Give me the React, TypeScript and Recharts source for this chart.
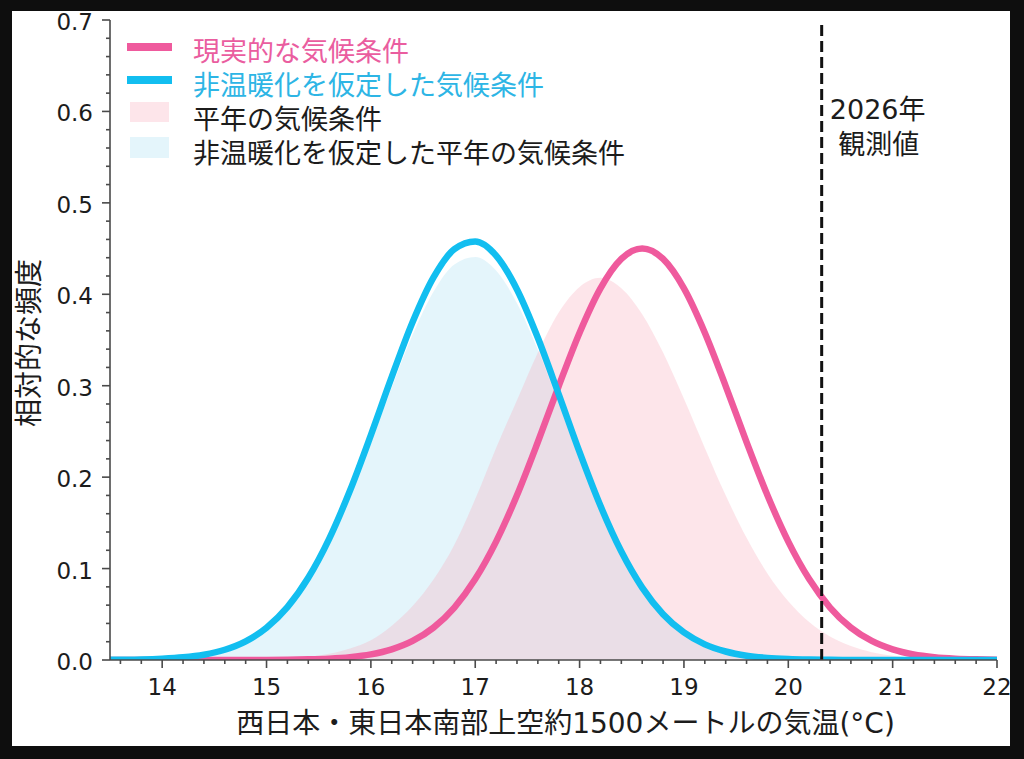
import React from 'react';
import { ComposedChart, Line, Area, XAxis, YAxis, ReferenceLine, Legend, Label } from 'recharts';

// x: 西日本・東日本南部上空約1500メートルの気温 (°C)
const temps = [13.5, 13.6, 13.8, 14.0, 14.2, 14.4, 14.6, 14.8, 15.0, 15.2, 15.4, 15.6, 15.8, 16.0, 16.2, 16.4, 16.6, 16.8, 17.0, 17.2, 17.4, 17.6, 17.8, 18.0, 18.2, 18.4, 18.6, 18.8, 19.0, 19.2, 19.4, 19.6, 19.8, 20.0, 20.2, 20.4, 20.6, 20.8, 21.0, 21.2, 21.4, 21.6, 21.8, 22.0];

// 現実的な気候条件 (pink line)
const realClimate = [0, 0, 0, 0, 0, 0, 0, 0.0001, 0.0001, 0.0003, 0.0007, 0.0015, 0.0031, 0.0061, 0.0116, 0.0208, 0.0354, 0.0574, 0.0885, 0.1295, 0.1802, 0.2384, 0.2996, 0.358, 0.4065, 0.4387, 0.45, 0.4387, 0.4065, 0.358, 0.2996, 0.2384, 0.1802, 0.1295, 0.0885, 0.0574, 0.0354, 0.0208, 0.0116, 0.0061, 0.0031, 0.0015, 0.0007, 0.0003];

// 非温暖化を仮定した気候条件 (blue line)
const noWarmingClimate = [0.0002, 0.0003, 0.0006, 0.0014, 0.0029, 0.0058, 0.0112, 0.0204, 0.0353, 0.0578, 0.0899, 0.1325, 0.1854, 0.246, 0.3096, 0.3696, 0.4184, 0.4493, 0.4577, 0.4423, 0.4053, 0.3524, 0.2906, 0.2273, 0.1686, 0.1186, 0.0792, 0.0501, 0.0301, 0.0171, 0.0093, 0.0047, 0.0023, 0.0011, 0.0005, 0.0002, 0.0001, 0, 0, 0, 0, 0, 0, 0];

// 平年の気候条件 (pink area)
const normalClimate = [0, 0, 0, 0, 0, 0, 0.0001, 0.0003, 0.0008, 0.0017, 0.0035, 0.0068, 0.0125, 0.0215, 0.0375, 0.059, 0.088, 0.126, 0.176, 0.232, 0.284, 0.336, 0.38, 0.408, 0.418, 0.4067, 0.3783, 0.3363, 0.2857, 0.232, 0.1801, 0.1336, 0.0947, 0.0642, 0.0415, 0.0257, 0.0152, 0.0086, 0.0046, 0.0024, 0.0012, 0.0006, 0.0003, 0.0001];

// 非温暖化を仮定した平年の気候条件 (blue area)
const noWarmingNormalClimate = [0.0002, 0.0003, 0.0006, 0.0013, 0.0028, 0.0056, 0.0108, 0.0196, 0.034, 0.0557, 0.0866, 0.1276, 0.1785, 0.2369, 0.2981, 0.3559, 0.4029, 0.4327, 0.4408, 0.4259, 0.3903, 0.3394, 0.2798, 0.2189, 0.1624, 0.1142, 0.0763, 0.0482, 0.029, 0.0165, 0.009, 0.0045, 0.0022, 0.0011, 0.0005, 0.0002, 0.0001, 0, 0, 0, 0, 0, 0, 0];

const observed2026 = 20.32;

const xMajorTicks = [14, 15, 16, 17, 18, 19, 20, 21, 22];
const xTickLabels = ['14', '15', '16', '17', '18', '19', '20', '21', '22'];
const xAllTicks = [13.6, 13.8, 14.0, 14.2, 14.4, 14.6, 14.8, 15.0, 15.2, 15.4, 15.6, 15.8, 16.0, 16.2, 16.4, 16.6, 16.8, 17.0, 17.2, 17.4, 17.6, 17.8, 18.0, 18.2, 18.4, 18.6, 18.8, 19.0, 19.2, 19.4, 19.6, 19.8, 20.0, 20.2, 20.4, 20.6, 20.8, 21.0, 21.2, 21.4, 21.6, 21.8, 22.0];

const yMajorTicks = [0, 0.1, 0.2, 0.3, 0.4, 0.5, 0.6, 0.7];
const yTickLabels = ['0.0', '0.1', '0.2', '0.3', '0.4', '0.5', '0.6', '0.7'];
const yAllTicks = [0, 0.02, 0.04, 0.06, 0.08, 0.1, 0.12, 0.14, 0.16, 0.18, 0.2, 0.22, 0.24, 0.26, 0.28, 0.3, 0.32, 0.34, 0.36, 0.38, 0.4, 0.42, 0.44, 0.46, 0.48, 0.5, 0.52, 0.54, 0.56, 0.58, 0.6, 0.62, 0.64, 0.66, 0.68, 0.7];

const legendLabels = ['現実的な気候条件', '非温暖化を仮定した気候条件', '平年の気候条件', '非温暖化を仮定した平年の気候条件'];

const xLabel = '西日本・東日本南部上空約1500メートルの気温(°C)';
const yLabel = '相対的な頻度';
const obsLabel = ['2026年', '観測値'];

const PINK = '#EF5A9D';
const BLUE = '#12BEF0';
const PINK_FILL = '#F7AAB9';
const PINK_OP = 0.3;
const BLUE_FILL = '#BEE6F5';
const BLUE_OP = 0.42;
const AXIS = '#4a4a4a';
const TEXT = '#1c1c1c';
const FONT = "'DejaVu Sans', 'Noto Sans CJK JP', sans-serif";
const CJK = "'Noto Sans CJK JP', 'DejaVu Sans', sans-serif";

const rows = temps.map((t, i) => ({
  t,
  real: realClimate[i],
  noWarm: noWarmingClimate[i],
  normal: normalClimate[i],
  noWarmNormal: noWarmingNormalClimate[i],
}));

const XTick = (props: any) => {
  const { x, y, payload } = props;
  const v = payload.value;
  const i = xMajorTicks.findIndex((t) => Math.abs(t - v) < 1e-6);
  const major = i >= 0;
  return (
    <g>
      <line x1={x} x2={x} y1={y} y2={y + (major ? 8 : 4)} stroke={AXIS} strokeWidth={1.6} />
      {major && (
        <text x={x} y={y + 35} textAnchor="middle" fontSize={23} fontFamily={FONT} fill={TEXT}>
          {xTickLabels[i]}
        </text>
      )}
    </g>
  );
};

const YTick = (props: any) => {
  const { x, y, payload } = props;
  const v = payload.value;
  const i = yMajorTicks.findIndex((t) => Math.abs(t - v) < 1e-6);
  const major = i >= 0;
  return (
    <g>
      <line x1={x - (major ? 8 : 4)} x2={x} y1={y} y2={y} stroke={AXIS} strokeWidth={1.6} />
      {major && (
        <text x={x - 17} y={y + 10} textAnchor="end" fontSize={23} fontFamily={FONT} fill={TEXT}>
          {yTickLabels[i]}
        </text>
      )}
    </g>
  );
};

const XLabelContent = (props: any) => {
  const vb = props.viewBox || { x: 110, y: 660, width: 887, height: 40 };
  return (
    <text
      x={vb.x + vb.width / 2 + 12}
      y={vb.y + 63}
      textAnchor="middle"
      dominantBaseline="central"
      fontSize={28}
      fontFamily={FONT}
      fill={TEXT}
    >
      {xLabel}
    </text>
  );
};

const YLabelContent = (props: any) => {
  const vb = props.viewBox || { x: 10, y: 20, width: 100, height: 640 };
  const cx = vb.x + 17;
  const cy = vb.y + vb.height / 2 + 3;
  return (
    <text
      x={cx}
      y={cy}
      transform={`rotate(-90 ${cx} ${cy})`}
      textAnchor="middle"
      dominantBaseline="central"
      fontSize={28}
      fontFamily={CJK}
      fill={TEXT}
    >
      {yLabel}
    </text>
  );
};

const ObsLabelContent = (props: any) => {
  const vb = props.viewBox || { x: 822, y: 20 };
  return (
    <g>
      <text x={vb.x + 56} y={vb.y + 89} textAnchor="middle" dominantBaseline="central" fontSize={27} fontFamily={FONT} fill={TEXT}>
        {obsLabel[0]}
      </text>
      <text x={vb.x + 57} y={vb.y + 122} textAnchor="middle" dominantBaseline="central" fontSize={27} fontFamily={CJK} fill={TEXT}>
        {obsLabel[1]}
      </text>
    </g>
  );
};

const LegendContent = () => {
  const rowsY = [49, 83, 117, 151];
  const textColors = ['#EA5D9F', '#2DB5E5', TEXT, TEXT];
  return (
    <svg width={700} height={180} style={{ display: 'block' }}>
      <rect x={127} y={rowsY[0] - 2 - 4} width={45} height={8} fill={PINK} />
      <rect x={127} y={rowsY[1] - 3 - 4} width={45} height={8} fill={BLUE} />
      <rect x={130} y={rowsY[2] - 15} width={39} height={20} fill={PINK_FILL} fillOpacity={PINK_OP} />
      <rect x={130} y={rowsY[3] - 14} width={39} height={21} fill={BLUE_FILL} fillOpacity={BLUE_OP} />
      {legendLabels.map((l, i) => (
        <text key={l} x={193} y={rowsY[i]} dominantBaseline="central" fontSize={27} fontFamily={CJK} fill={textColors[i]}>
          {l}
        </text>
      ))}
    </svg>
  );
};

export default function App() {
  return (
    <div style={{ position: 'absolute', left: 0, top: 0, width: 1024, height: 759, background: '#0e0e0e', overflow: 'hidden' }}>
      <div style={{ position: 'absolute', left: 12, top: 11, width: 998, height: 735, background: '#ffffff' }} />
      <div style={{ position: 'absolute', left: 0, top: 0 }}>
        <ComposedChart width={1024} height={759} data={rows} margin={{ top: 20, right: 27, bottom: 59, left: 10 }}>
          <XAxis
            dataKey="t"
            type="number"
            domain={[13.5, 22]}
            allowDataOverflow
            ticks={xAllTicks}
            interval={0}
            tickSize={0}
            tickMargin={0}
            tickLine={false}
            tick={<XTick />}
            height={40}
            axisLine={{ stroke: AXIS, strokeWidth: 1.6 }}
          >
            <Label content={<XLabelContent />} />
          </XAxis>
          <XAxis xAxisId="top" orientation="top" type="number" domain={[13.5, 22]} allowDataOverflow height={0} tick={false} tickLine={false} axisLine={{ stroke: AXIS, strokeWidth: 1.6 }} />
          <YAxis
            type="number"
            domain={[0, 0.7]}
            allowDataOverflow
            ticks={yAllTicks}
            interval={0}
            tickSize={0}
            tickMargin={0}
            tickLine={false}
            tick={<YTick />}
            width={100}
            axisLine={{ stroke: AXIS, strokeWidth: 1.6 }}
          >
            <Label content={<YLabelContent />} />
          </YAxis>
          <YAxis yAxisId="right" orientation="right" type="number" domain={[0, 0.7]} allowDataOverflow width={0} tick={false} tickLine={false} axisLine={{ stroke: AXIS, strokeWidth: 1.6 }} />
          <Legend layout="horizontal" verticalAlign="middle" align="center" content={<LegendContent />} wrapperStyle={{ position: 'absolute', left: 0, top: 0, width: 700, height: 180 }} />
          <Area type="monotone" dataKey="noWarmNormal" fill={BLUE_FILL} fillOpacity={BLUE_OP} stroke="none" isAnimationActive={false} />
          <Area type="monotone" dataKey="normal" fill={PINK_FILL} fillOpacity={PINK_OP} stroke="none" isAnimationActive={false} />
          <Line type="monotone" dataKey="real" stroke={PINK} strokeWidth={6.5} dot={false} isAnimationActive={false} />
          <Line type="monotone" dataKey="noWarm" stroke={BLUE} strokeWidth={6.5} dot={false} isAnimationActive={false} />
          <ReferenceLine x={observed2026} stroke="#111111" strokeWidth={3} strokeDasharray="11 5" label={<ObsLabelContent />} />
        </ComposedChart>
      </div>
    </div>
  );
}
